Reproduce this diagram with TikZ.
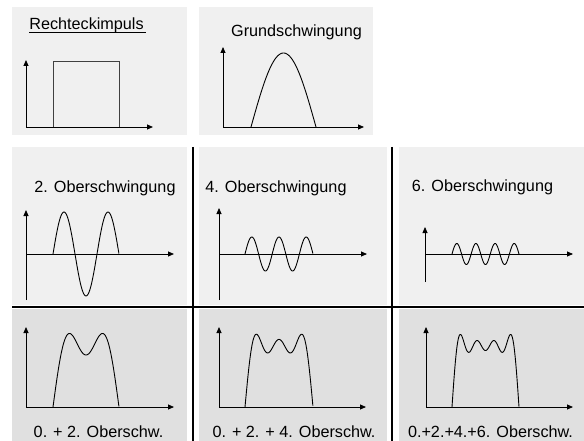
\documentclass[tikz,border=0pt]{standalone}
\usepackage{fontspec}
\setmainfont{Liberation Sans}
\usetikzlibrary{arrows.meta}
\definecolor{panelA}{RGB}{240,240,240}
\definecolor{panelB}{RGB}{224,224,224}
\tikzset{
  axis/.style={line width=0.8pt, black, -{Triangle[length=6pt,width=5pt]}},
  wave/.style={line width=0.9pt, black},
  grid/.style={line width=1.3pt, black},
  lbl/.style={anchor=base, inner sep=0pt, font=\fontsize{16.2}{19}\selectfont}
}
\begin{document}
\begin{tikzpicture}[x=1pt,y=-1pt]
\useasboundingbox (0,0) rectangle (584,441);
% panels
\fill[panelA] (12,7) rectangle (187,135);
\fill[panelA] (199,7) rectangle (373,135);
\fill[panelA] (12,147) rectangle (187,305);
\fill[panelA] (199,147) rectangle (387,305);
\fill[panelA] (399,147) rectangle (584,305);
\fill[panelB] (12,309) rectangle (187,441);
\fill[panelB] (199,309) rectangle (387,441);
\fill[panelB] (399,309) rectangle (584,441);
% grid lines
\draw[grid] (193,147) -- (193,441);
\draw[grid] (392,147) -- (392,441);
\draw[grid] (12,307) -- (584,307);
% titles
\node[lbl] (t1) at (86.5,30) {Rechteckimpuls};
\draw[line width=0.9pt] (t1.base west) ++(0,2.5) -- ++(117,0);
\node[lbl] (t2) at (296.5,37) {Grundschwingung};
\node[lbl] (t3) at (105,193) {2. Oberschwingung};
\node[lbl] (t4) at (276,193) {4. Oberschwingung};
\node[lbl] (t5) at (482.5,192) {6. Oberschwingung};
\node[lbl] (t6) at (98.5,437) {0. + 2. Oberschw.};
\node[lbl] (t7) at (294,437) {0. + 2. + 4. Oberschw.};
\node[lbl] (t8) at (490.5,437) {0.+2.+4.+6. Oberschw.};
% Rechteckimpuls
\coordinate (o1) at (26,127);
\draw[axis] (o1) -- (26,60);
\draw[axis] (o1) -- (153,127);
\draw[line width=0.9pt, black!75] (53,127) -- (53,61) -- (119,61) -- (119,127);
% Grundschwingung
\coordinate (o2) at (223,127);
\draw[axis] (o2) -- (223,47);
\draw[axis] (o2) -- (364,127);
\draw[wave] plot[domain=0:1, samples=80, smooth] ({251+65*\x},{127-74*sin(180*\x)});
% 2. Oberschwingung
\draw[line width=0.8pt] (26,300) -- (26,254);
\draw[axis] (26,254) -- (26,210);
\draw[axis] (26,254) -- (174,254);
\draw[wave] plot[domain=0:1, samples=120, smooth] ({53+66*\x},{254-42*sin(540*\x)});
% 4. Oberschwingung
\draw[line width=0.8pt] (219,300) -- (219,254);
\draw[axis] (219,254) -- (219,208);
\draw[axis] (219,254) -- (367,254);
\draw[wave] plot[domain=0:1, samples=150, smooth] ({245+68*\x},{254-17*sin(900*\x)});
% 6. Oberschwingung
\draw[line width=0.8pt] (425,282) -- (425,254);
\draw[axis] (425,254) -- (425,227);
\draw[axis] (425,254) -- (573,254);
\draw[wave] plot[domain=0:1, samples=180, smooth] ({452+67*\x},{254-10.5*sin(1260*\x)});
% sums
\draw[axis] (26,407) -- (26,327);
\draw[axis] (26,407) -- (174,407);
\draw[wave] plot[domain=0:1, samples=120, smooth] ({53+66*\x},{407-78*(sin(180*\x)+sin(540*\x)/3)});
\draw[axis] (219,407) -- (219,327);
\draw[axis] (219,407) -- (366,407);
\draw[wave] plot[domain=0:1, samples=150, smooth] ({245+68*\x},{407-78*(sin(180*\x)+sin(540*\x)/3+sin(900*\x)/5)});
\draw[axis] (426,407) -- (426,327);
\draw[axis] (426,407) -- (573,407);
\draw[wave] plot[domain=0:1, samples=180, smooth] ({452+67*\x},{407-78*(sin(180*\x)+sin(540*\x)/3+sin(900*\x)/5+sin(1260*\x)/7)});
\end{tikzpicture}
\end{document}
